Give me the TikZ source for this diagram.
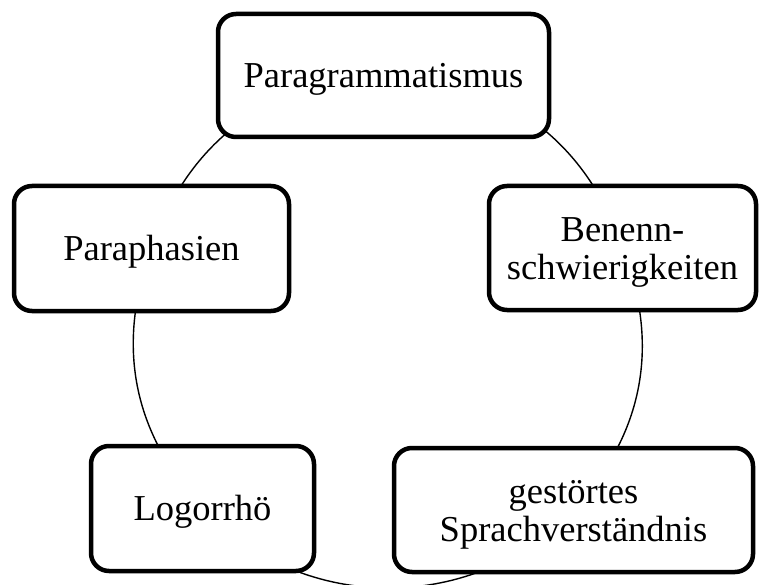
\documentclass[tikz,border=0pt]{standalone}
\usepackage{fontspec}
\setmainfont{Liberation Serif}
\usetikzlibrary{backgrounds}
\newcommand\lnstrut{\rule[-0.216em]{0pt}{1.107em}}
\newcommand\boxfont{\fontsize{36.5}{38.5}\selectfont\setlength{\lineskiplimit}{-100pt}}
\tikzset{
  boxnode/.style={draw=black, line width=4.5pt, fill=white, rounded corners=18pt,
    inner sep=0pt, align=center, font=\boxfont},
  arcline/.style={draw=black, line width=1.4pt},
}
\begin{document}
\begin{tikzpicture}[x=1pt,y=-1pt]
\useasboundingbox (0,0) rectangle (759,585);
\node[boxnode, minimum width=331pt, minimum height=123pt] (P) at (383.5,75.5) {\lnstrut Paragrammatismus};
\node[boxnode, minimum width=275pt, minimum height=125pt] (Ph) at (151.5,248.5) {\lnstrut Paraphasien};
\node[boxnode, minimum width=267pt, minimum height=124pt] (B) at (622.5,248) {\lnstrut Benenn-\\\lnstrut schwierigkeiten};
\node[boxnode, minimum width=223pt, minimum height=125pt] (L) at (202.5,508.5) {\lnstrut Logorrhö};
\node[boxnode, minimum width=359pt, minimum height=124pt] (G) at (573.5,510) {\lnstrut gestörtes\\\lnstrut Sprachverständnis};
\begin{scope}[on background layer]
\draw[arcline] (P.center) to[bend right=34.7] (Ph.center);
\draw[arcline] (Ph.center) to[bend right=31.4] (L.center);
\draw[arcline] (L.center) to[bend right=46.3] (G.center);
\draw[arcline] (G.center) to[bend right=31.9] (B.center);
\draw[arcline] (B.center) to[bend right=35.7] (P.center);
\end{scope}
\end{tikzpicture}
\end{document}
